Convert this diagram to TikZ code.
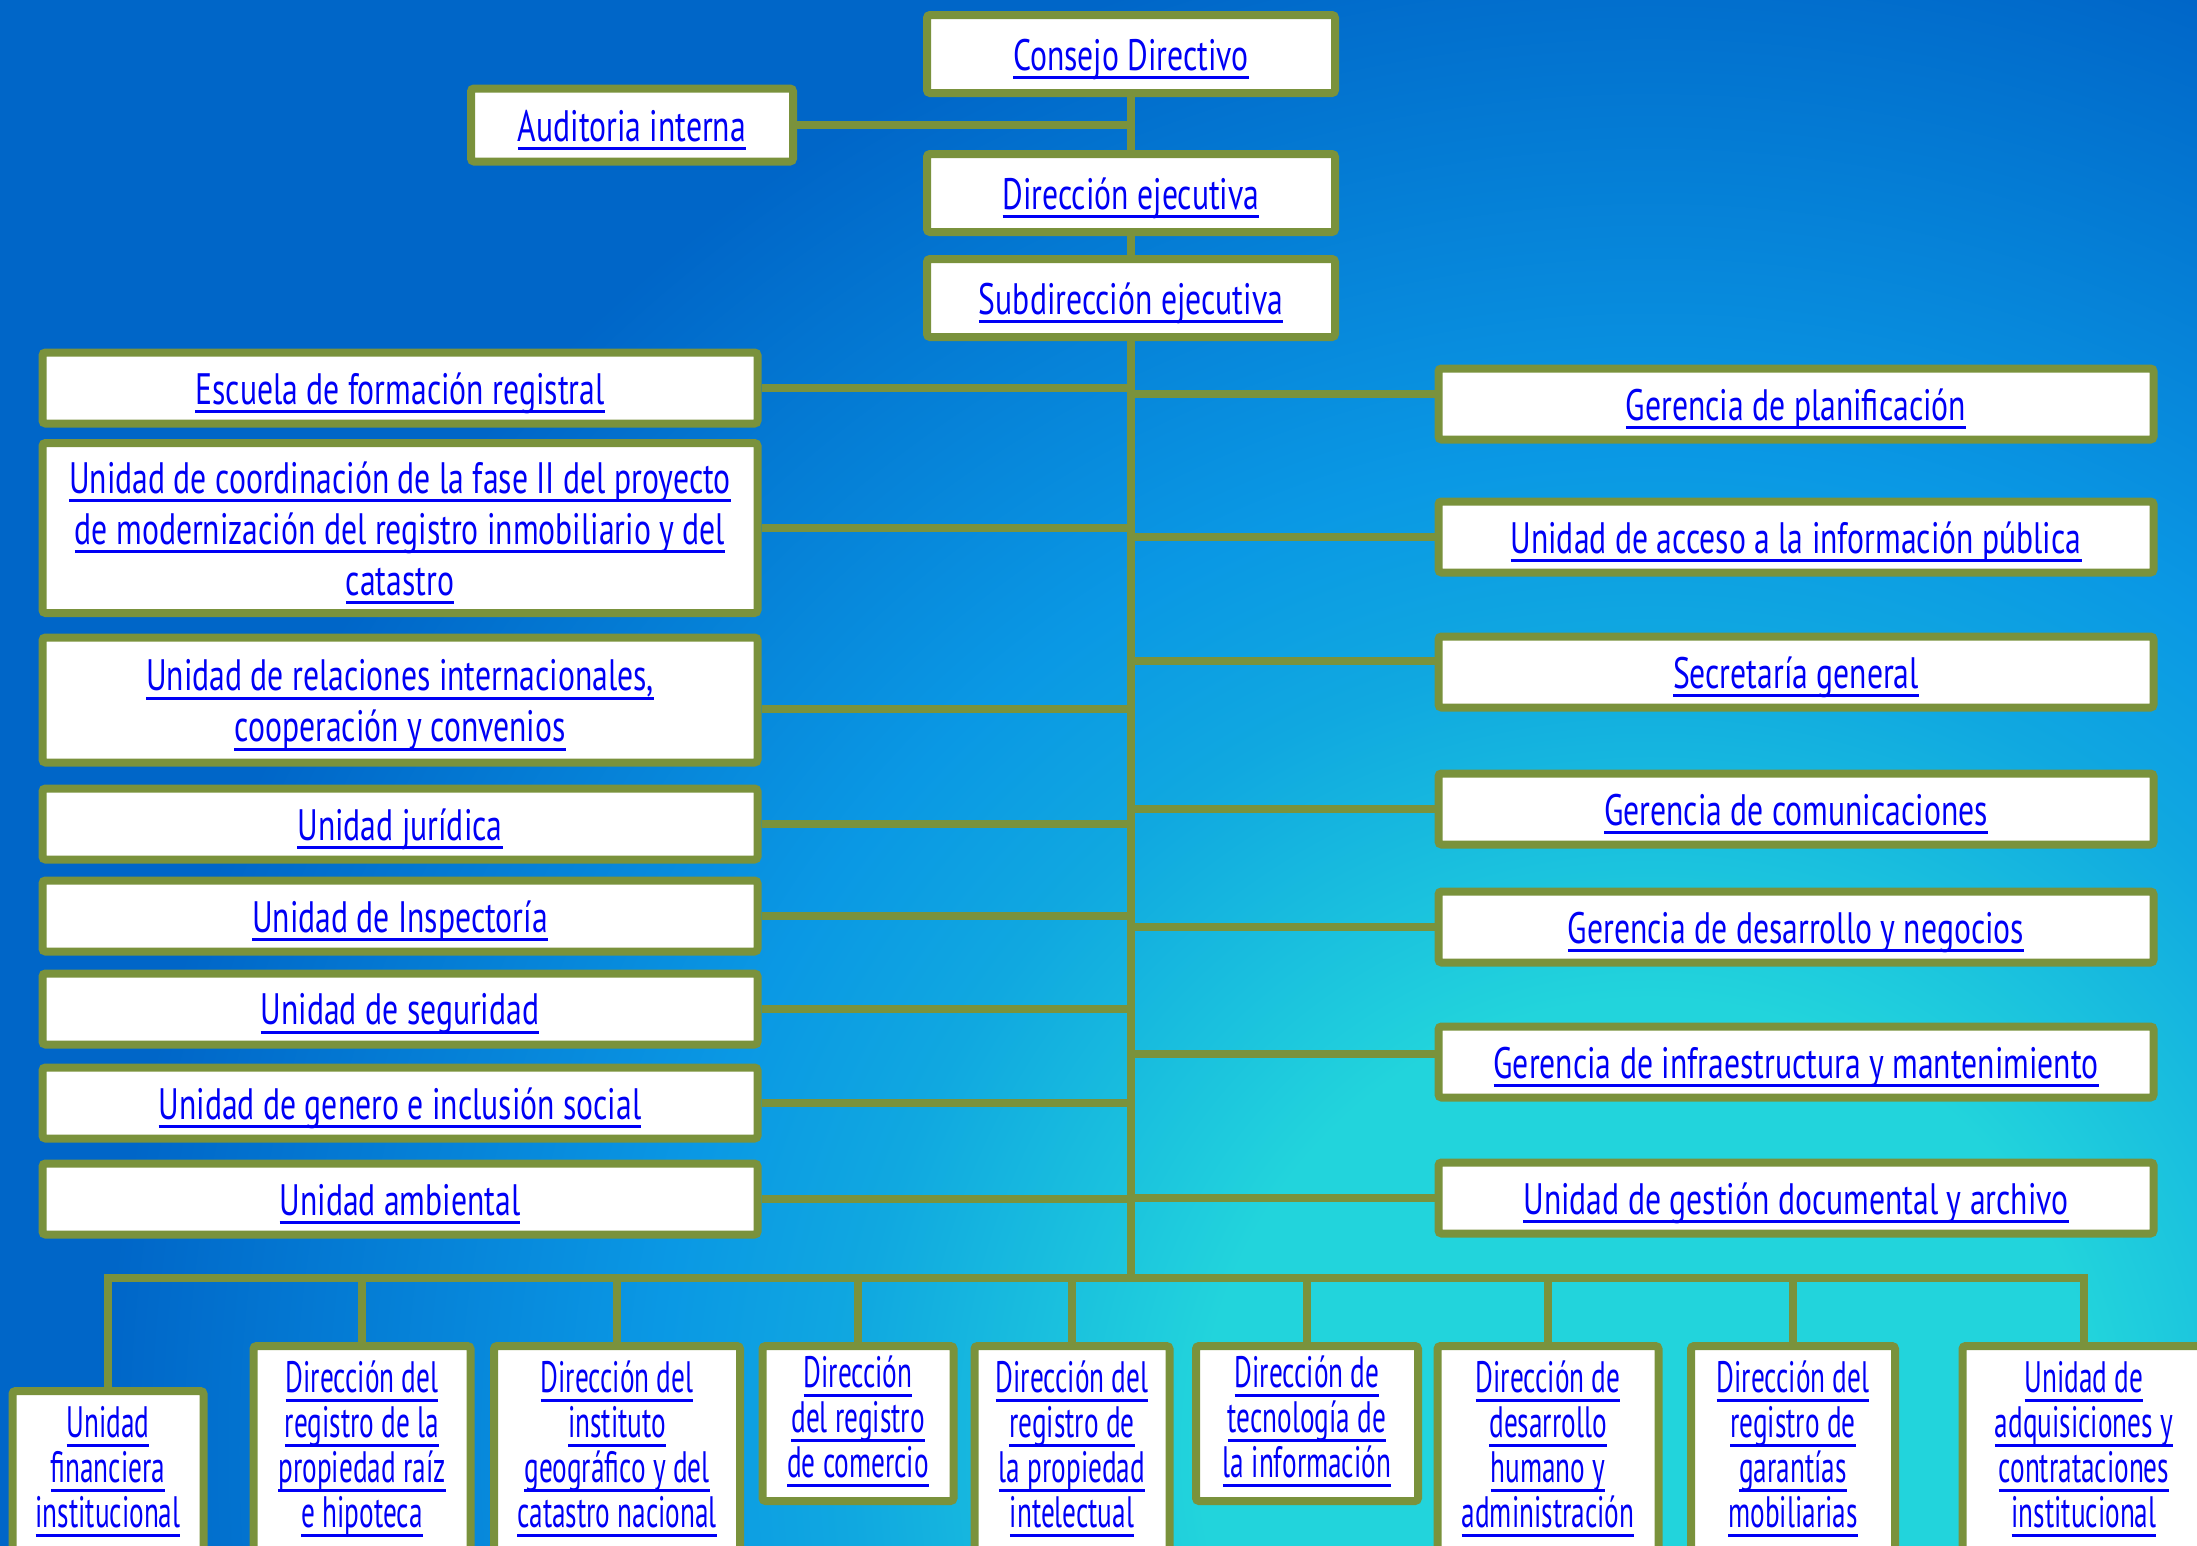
\documentclass[tikz,border=0pt]{standalone}
\usepackage{fontspec}
\setmainfont[FakeStretch=0.62]{PT Sans}
\newfontfamily\boxfont[FakeStretch=0.72]{PT Sans}

\definecolor{olivebox}{RGB}{122,146,60}
\definecolor{linkblue}{RGB}{0,0,245}
\definecolor{bgcyan}{RGB}{34,212,220}
\definecolor{bglight}{RGB}{16,168,224}
\definecolor{bgmid}{RGB}{10,152,228}
\definecolor{bgdark}{RGB}{0,102,200}

% background glow, cyan low on the right (1bp = 120pt on a circle of radius 3000)
\pgfdeclareradialshading{bgglow}{\pgfpoint{0bp}{0bp}}{color(0bp)=(bgcyan); color(3.75bp)=(bgcyan); color(6.67bp)=(bglight); color(8.33bp)=(bgmid); color(12.9bp)=(bgdark); color(50bp)=(bgdark)}

% underlined line of text, like a hyperlink
\newlength{\lnkdrop}
\newcommand{\lnk}[1]{\leavevmode\raisebox{-\lnkdrop}[\height][\depth]{\setbox0=\hbox{#1}\rlap{\color{linkblue}\rule[-9pt]{\wd0}{3pt}}\box0}}

\tikzset{
  unit/.style={draw=olivebox, line width=8pt, fill=white, rounded corners=3pt,
    inner sep=0pt, align=center, text=linkblue,
    font=\boxfont\fontsize{44}{51}\selectfont\setlength{\lnkdrop}{5pt}},
  sideunit/.style={unit, minimum width=715pt, minimum height=71pt},
  lowunit/.style={unit, anchor=north, font=\rmfamily\fontsize{44}{45}\selectfont\setlength{\lnkdrop}{-2pt}},
  link/.style={draw=olivebox, line width=8pt}
}

\begin{document}
\begin{tikzpicture}[x=1pt,y=-1pt]
    \useasboundingbox (0,0) rectangle (2197,1545);
    \clip (0,0) rectangle (2197,1545);
    \fill[bgdark] (0,0) rectangle (2197,1545);
    \shade[shading=bgglow] (1650,1450) circle (3000);

    % top of the chart
    \node[unit, minimum width=408pt, minimum height=78pt] (consejo) at (1131,54) {\lnk{Consejo Directivo}};
    \node[unit, minimum width=322pt, minimum height=73pt] (auditoria) at (632,125) {\lnk{Auditoria interna}};
    \node[unit, minimum width=408pt, minimum height=78pt] (direccion) at (1131,193) {\lnk{Dirección ejecutiva}};
    \node[unit, minimum width=408pt, minimum height=78pt] (subdir) at (1131,298) {\lnk{Subdirección ejecutiva}};

    % left column
    \node[sideunit] (escuela) at (400,388) {\lnk{Escuela de formación registral}};
    \node[sideunit, minimum height=170pt] (coord) at (400,528) {\lnk{Unidad de coordinación de la fase II del proyecto}\\\lnk{de modernización del registro inmobiliario y del}\\\lnk{catastro}};
    \node[sideunit, minimum height=125pt] (relac) at (400,700) {\lnk{Unidad de relaciones internacionales,}\\\lnk{cooperación y convenios}};
    \node[sideunit] (juridica) at (400,824) {\lnk{Unidad jurídica}};
    \node[sideunit] (inspect) at (400,916) {\lnk{Unidad de Inspectoría}};
    \node[sideunit] (segur) at (400,1009) {\lnk{Unidad de seguridad}};
    \node[sideunit] (genero) at (400,1103) {\lnk{Unidad de genero e inclusión social}};
    \node[sideunit] (ambiental) at (400,1199) {\lnk{Unidad ambiental}};

    % right column
    \node[sideunit] (planif) at (1796,404) {\lnk{Gerencia de planificación}};
    \node[sideunit] (acceso) at (1796,537) {\lnk{Unidad de acceso a la información pública}};
    \node[sideunit] (secret) at (1796,672) {\lnk{Secretaría general}};
    \node[sideunit] (comunic) at (1796,809) {\lnk{Gerencia de comunicaciones}};
    \node[sideunit] (negocios) at (1796,927) {\lnk{Gerencia de desarrollo y negocios}};
    \node[sideunit] (infra) at (1796,1062) {\lnk{Gerencia de infraestructura y mantenimiento}};
    \node[sideunit] (archivo) at (1796,1198) {\lnk{Unidad de gestión documental y archivo}};

    % bottom row
    \node[lowunit, minimum width=191pt, minimum height=165pt] (financ) at (108,1387) {\lnk{Unidad}\\\lnk{financiera}\\\lnk{institucional}};
    \node[lowunit, minimum width=217pt, minimum height=210pt] (raiz) at (362,1342) {\lnk{Dirección del}\\\lnk{registro de la}\\\lnk{propiedad raíz}\\\lnk{e hipoteca}};
    \node[lowunit, minimum width=246pt, minimum height=210pt] (geogr) at (617,1342) {\lnk{Dirección del}\\\lnk{instituto}\\\lnk{geográfico y del}\\\lnk{catastro nacional}};
    \node[lowunit, minimum width=191pt, minimum height=155pt] (comercio) at (858,1342) {\lnk{Dirección}\\\lnk{del registro}\\\lnk{de comercio}};
    \node[lowunit, minimum width=195pt, minimum height=210pt] (intelect) at (1072,1342) {\lnk{Dirección del}\\\lnk{registro de}\\\lnk{la propiedad}\\\lnk{intelectual}};
    \node[lowunit, minimum width=222pt, minimum height=155pt] (tecno) at (1307,1342) {\lnk{Dirección de}\\\lnk{tecnología de}\\\lnk{la información}};
    \node[lowunit, minimum width=221pt, minimum height=210pt] (humano) at (1548,1342) {\lnk{Dirección de}\\\lnk{desarrollo}\\\lnk{humano y}\\\lnk{administración}};
    \node[lowunit, minimum width=204pt, minimum height=210pt] (garant) at (1793,1342) {\lnk{Dirección del}\\\lnk{registro de}\\\lnk{garantías}\\\lnk{mobiliarias}};
    \node[lowunit, minimum width=243pt, minimum height=210pt] (adquis) at (2084,1342) {\lnk{Unidad de}\\\lnk{adquisiciones y}\\\lnk{contrataciones}\\\lnk{institucional}};

    % connectors
    \coordinate (trunk) at (1130,1278);
    \draw[link] (consejo) -- (direccion);
    \draw[link] (direccion) -- (subdir);
    \draw[link] (auditoria.east) -- (auditoria.east -| consejo.south);
    \draw[link] (subdir.south) -- (subdir.south |- trunk);
    \draw[link] (escuela.east) -- (escuela.east -| trunk);
    \draw[link] (coord.east) -- (coord.east -| trunk);
    \draw[link] ([yshift=-9pt]relac.east) -- ([yshift=-9pt]relac.east -| trunk);
    \draw[link] (juridica.east) -- (juridica.east -| trunk);
    \draw[link] (inspect.east) -- (inspect.east -| trunk);
    \draw[link] (segur.east) -- (segur.east -| trunk);
    \draw[link] (genero.east) -- (genero.east -| trunk);
    \draw[link] (ambiental.east) -- (ambiental.east -| trunk);
    \draw[link] ([yshift=10pt]planif.west) -- ([yshift=10pt]planif.west -| trunk);
    \draw[link] (acceso.west) -- (acceso.west -| trunk);
    \draw[link] ([yshift=11pt]secret.west) -- ([yshift=11pt]secret.west -| trunk);
    \draw[link] (comunic.west) -- (comunic.west -| trunk);
    \draw[link] (negocios.west) -- (negocios.west -| trunk);
    \draw[link] ([yshift=8pt]infra.west) -- ([yshift=8pt]infra.west -| trunk);
    \draw[link] (archivo.west) -- (archivo.west -| trunk);
    \draw[link] (financ.north) |- (trunk) -| (adquis.north);
    \draw[link] (raiz.north) -- (raiz.north |- trunk);
    \draw[link] (geogr.north) -- (geogr.north |- trunk);
    \draw[link] (comercio.north) -- (comercio.north |- trunk);
    \draw[link] (intelect.north) -- (intelect.north |- trunk);
    \draw[link] (tecno.north) -- (tecno.north |- trunk);
    \draw[link] (humano.north) -- (humano.north |- trunk);
    \draw[link] (garant.north) -- (garant.north |- trunk);
\end{tikzpicture}
\end{document}
